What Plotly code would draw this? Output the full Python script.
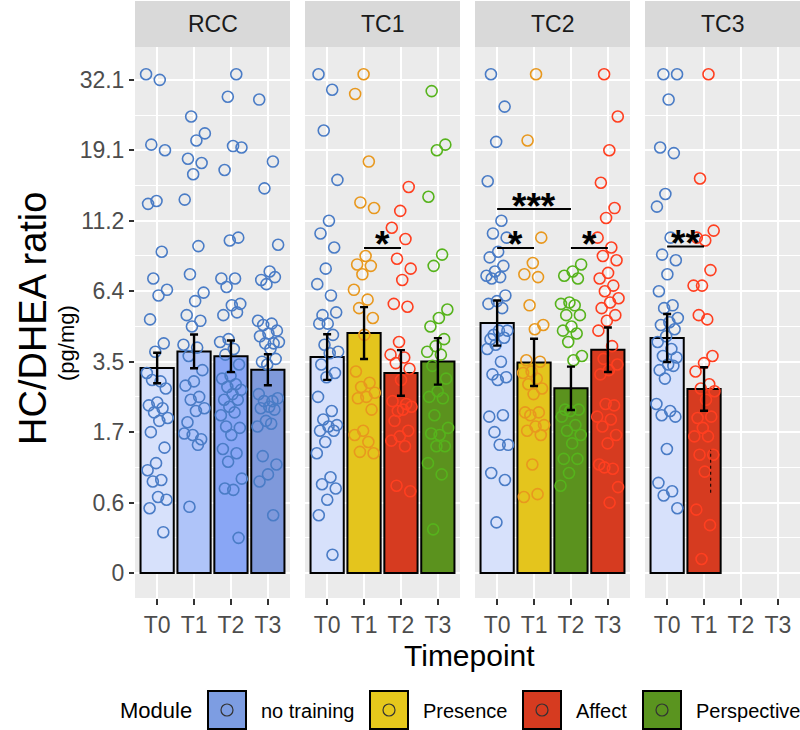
import numpy as np
import plotly.graph_objects as go

# ---------------- data (values on ln(1 + HC/DHEA ratio) scale) ----------------
panels = ["RCC", "TC1", "TC2", "TC3"]
timepoints = ["T0", "T1", "T2", "T3"]

y_tickvals = [0, 0.5, 1.0, 1.5, 2.0, 2.5, 3.0, 3.5]
y_ticklabels = ["0", "0.6", "1.7", "3.5", "6.4", "11.2", "19.1", "32.1"]

RCC_modules = ["no training", "no training", "no training", "no training"]
TC1_modules = ["no training", "Presence", "Affect", "Perspective"]
TC2_modules = ["no training", "Presence", "Perspective", "Affect"]
TC3_modules = ["no training", "Affect"]

RCC_mean = [1.455, 1.573, 1.538, 1.443]
RCC_se = [0.108, 0.120, 0.112, 0.110]
TC1_mean = [1.533, 1.703, 1.420, 1.502]
TC1_se = [0.162, 0.184, 0.162, 0.165]
TC2_mean = [1.774, 1.495, 1.311, 1.585]
TC2_se = [0.160, 0.168, 0.154, 0.158]
TC3_mean = [1.668, 1.306]
TC3_se = [0.170, 0.154]

RCC_T0 = [3.54, 3.50, 3.04, 3.00, 2.64, 2.62, 2.28, 2.09, 2.01, 1.97, 1.80, 1.63, 1.57, 1.42, 1.36, 1.37, 1.31,
          1.21, 1.19, 1.17, 1.14, 1.10, 1.08, 1.00, 0.89, 0.78, 0.73, 0.66, 0.65, 0.52, 0.54, 0.46, 0.29]
RCC_T1 = [3.24, 3.12, 3.07, 2.94, 2.91, 2.83, 2.65, 2.32, 2.12, 1.99, 1.93, 1.83, 1.79, 1.75, 1.62, 1.60, 1.54,
          1.44, 1.36, 1.33, 1.25, 1.23, 1.17, 1.15, 1.07, 0.95, 0.98, 0.99, 0.91, 0.47]
RCC_T2 = [3.54, 3.38, 3.02, 3.03, 2.86, 2.38, 2.36, 2.09, 2.09, 2.03, 1.91, 1.90, 1.83, 1.85, 1.66, 1.64, 1.59,
          1.55, 1.48, 1.40, 1.38, 1.34, 1.32, 1.30, 1.27, 1.23, 1.23, 1.18, 1.12, 1.14, 1.04, 1.03, 0.98, 0.88,
          0.85, 0.79, 0.67, 0.59, 0.60, 0.25]
RCC_T3 = [3.36, 2.92, 2.73, 2.33, 2.14, 2.08, 2.10, 2.05, 1.79, 1.77, 1.76, 1.72, 1.70, 1.68, 1.63, 1.63, 1.64,
          1.59, 1.50, 1.52, 1.48, 1.27, 1.22, 1.22, 1.24, 1.18, 1.17, 1.16, 1.08, 1.04, 1.06, 0.83, 0.77, 0.70,
          0.65, 0.41]

TC1_T0 = [3.54, 3.43, 3.14, 2.79, 2.50, 2.41, 2.31, 2.16, 2.05, 1.97, 1.83, 1.85, 1.77, 1.77, 1.69, 1.62, 1.57,
          1.56, 1.48, 1.42, 1.39, 1.25, 1.15, 1.09, 1.05, 1.04, 1.01, 1.01, 0.93, 0.85, 0.68, 0.63, 0.60, 0.52,
          0.41, 0.13]
TC1_T1 = [3.54, 3.40, 2.92, 2.63, 2.59, 2.25, 2.19, 2.18, 2.12, 2.01, 1.94, 1.88, 1.81, 1.69, 1.43, 1.35, 1.32,
          1.28, 1.25, 1.24, 1.16, 1.01, 0.98, 0.93, 0.86, 0.85]
TC1_T2 = [2.74, 2.57, 2.45, 2.37, 2.23, 2.16, 2.08, 1.91, 1.89, 1.64, 1.55, 1.53, 1.49, 1.45, 1.37, 1.22, 1.20,
          1.15, 1.18, 1.16, 1.08, 1.01, 0.97, 0.94, 0.90, 0.62, 0.58]
TC1_T3 = [3.42, 3.04, 3.00, 2.67, 2.26, 2.18, 1.87, 1.81, 1.75, 1.66, 1.61, 1.57, 1.55, 1.47, 1.38, 1.29, 1.25,
          1.24, 1.12, 1.03, 0.98, 0.99, 0.90, 0.90, 0.78, 0.70, 0.31]

TC2_T0 = [3.54, 3.31, 3.06, 2.78, 2.50, 2.41, 2.38, 2.28, 2.24, 2.18, 2.14, 2.11, 2.10, 2.09, 1.97, 1.93, 1.91,
          1.88, 1.69, 1.72, 1.72, 1.66, 1.67, 1.62, 1.59, 1.50, 1.41, 1.39, 1.37, 1.11, 1.12, 1.00, 0.91, 0.91,
          0.71, 0.66, 0.36]
TC2_T1 = [3.54, 3.07, 2.38, 2.20, 2.12, 2.10, 1.90, 1.76, 1.73, 1.51, 1.50, 1.43, 1.42, 1.38, 1.34, 1.31, 1.27,
          1.14, 1.14, 1.12, 1.05, 1.04, 1.01, 0.98, 0.77, 0.54, 0.56]
TC2_T2 = [2.19, 2.14, 2.11, 2.09, 1.92, 1.91, 1.90, 1.83, 1.83, 1.75, 1.72, 1.70, 1.64, 1.54, 1.51, 1.16, 1.16,
          1.15, 1.11, 1.05, 1.01, 0.98, 0.92, 0.81, 0.81, 0.71, 0.62]
TC2_T3 = [3.54, 3.24, 3.00, 2.77, 2.59, 2.52, 2.38, 2.31, 2.25, 2.22, 2.13, 2.09, 2.04, 2.00, 1.95, 1.92, 1.88,
          1.83, 1.79, 1.72, 1.61, 1.52, 1.48, 1.44, 1.41, 1.19, 1.20, 1.11, 1.09, 1.04, 0.98, 0.92, 0.77, 0.74,
          0.75, 0.61, 0.50]

TC3_T0 = [3.54, 3.54, 3.36, 3.02, 2.98, 2.69, 2.60, 2.38, 2.26, 2.22, 2.12, 2.00, 1.90, 1.88, 1.81, 1.78, 1.76,
          1.73, 1.68, 1.64, 1.59, 1.54, 1.53, 1.48, 1.44, 1.47, 1.38, 1.20, 1.15, 1.12, 1.11, 0.88, 0.64, 0.58,
          0.55, 0.46]
TC3_T1 = [3.54, 2.80, 2.43, 2.36, 2.38, 2.15, 2.04, 2.04, 1.80, 1.83, 1.54, 1.49, 1.43, 1.34, 1.31, 1.29, 1.23,
          1.10, 1.11, 1.03, 0.97, 0.97, 0.84, 0.84, 0.72, 0.45, 0.34, 0.10]

# significance comparisons
sig_panel = ["TC1", "TC2", "TC2", "TC2", "TC3"]
sig_from = [1, 0, 0, 2, 0]
sig_to = [2, 2, 1, 3, 1]
sig_label = ["*", "***", "*", "*", "**"]
sig_height = [2.307, 2.583, 2.307, 2.307, 2.318]

legend_modules = ["no training", "Presence", "Affect", "Perspective"]

# ---------------- styles ----------------
FONT = "Liberation Sans, Arial, Helvetica, sans-serif"
point_color = {"no training": "#4A7CC6", "Presence": "#E8981E", "Affect": "#FF3F20", "Perspective": "#56B31C"}
bar_color = {"no training": "#D7E1FB", "Presence": "#E4C51D", "Affect": "#D63B20", "Perspective": "#5B921E"}
rcc_bar_colors = ["#D7E1FB", "#AFC4F9", "#89A6F5", "#7F99DB"]
key_color = {"no training": "#7D9DE2", "Presence": "#E6C81C", "Affect": "#D63B20", "Perspective": "#5A941F"}

panel_modules = [RCC_modules, TC1_modules, TC2_modules, TC3_modules]
panel_means = [RCC_mean, TC1_mean, TC2_mean, TC3_mean]
panel_se = [RCC_se, TC1_se, TC2_se, TC3_se]
panel_points = [[RCC_T0, RCC_T1, RCC_T2, RCC_T3], [TC1_T0, TC1_T1, TC1_T2, TC1_T3],
                [TC2_T0, TC2_T1, TC2_T2, TC2_T3], [TC3_T0, TC3_T1]]

W, H = 800, 730
ML, MR, MT, MB = 135, 0, 47, 132
PW, PH = W - ML - MR, H - MT - MB
panel_w, gap = 155, 15

def px_x(px):
    return (px - ML) / PW

def px_y(py):
    return (H - MB - py) / PH

fig = go.Figure()
layout = {}
minor_vals = [0.25, 0.75, 1.25, 1.75, 2.25, 2.75, 3.25]

for i, p in enumerate(panels):
    xa = "x" if i == 0 else f"x{i+1}"
    ya = "y" if i == 0 else f"y{i+1}"
    d0 = i * (panel_w + gap) / PW
    d1 = (i * (panel_w + gap) + panel_w) / PW
    layout["xaxis" if i == 0 else f"xaxis{i+1}"] = dict(
        domain=[d0, d1], range=[-0.6, 3.6], tickvals=[0, 1, 2, 3], ticktext=timepoints,
        anchor=ya, showgrid=True, gridcolor="white", gridwidth=2, zeroline=False,
        ticks="outside", ticklen=6, tickwidth=1.6, tickcolor="#333333",
        tickfont=dict(size=23, color="#4D4D4D", family=FONT), fixedrange=True, showline=False)
    yax = dict(
        anchor=xa, range=[-0.177, 3.733], tickvals=y_tickvals, ticktext=y_ticklabels,
        showgrid=True, gridcolor="white", gridwidth=2, zeroline=False,
        minor=dict(tickvals=minor_vals, showgrid=True, gridcolor="white", gridwidth=1, ticks=""),
        showticklabels=(i == 0), ticks="outside" if i == 0 else "", ticklen=5, tickwidth=1.6,
        tickcolor="#333333", tickfont=dict(size=23, color="#4D4D4D", family=FONT),
        fixedrange=True, showline=False)
    if i > 0:
        yax["matches"] = "y"
    layout["yaxis" if i == 0 else f"yaxis{i+1}"] = yax

    mods = panel_modules[i]
    n = len(mods)
    idx = list(range(n))
    colors = rcc_bar_colors if p == "RCC" else [bar_color[m] for m in mods]
    fig.add_trace(go.Bar(x=idx, y=panel_means[i], width=0.9, xaxis=xa, yaxis=ya,
                         marker=dict(color=colors, line=dict(color="black", width=2)),
                         showlegend=False, hoverinfo="skip"))
    for j, vals in enumerate(panel_points[i]):
        k = np.arange(len(vals))
        jit = (((k * 0.6180339887) + 0.37 * j + 0.11 * i) % 1.0 - 0.5) * 0.6
        c = point_color[mods[j]]
        fig.add_trace(go.Scatter(x=j + jit, y=vals, mode="markers", xaxis=xa, yaxis=ya,
                                 marker=dict(symbol="circle-open", size=11, color=c,
                                             line=dict(width=1.6, color=c)),
                                 showlegend=False, hoverinfo="skip"))
    fig.add_trace(go.Scatter(x=idx, y=panel_means[i], mode="markers", xaxis=xa, yaxis=ya,
                             marker=dict(size=1, color="rgba(0,0,0,0)"),
                             error_y=dict(type="data", array=panel_se[i], color="black",
                                          thickness=2.4, width=4),
                             showlegend=False, hoverinfo="skip"))

shapes = []
annotations = []

# strips
for i, p in enumerate(panels):
    d0 = i * (panel_w + gap) / PW
    d1 = (i * (panel_w + gap) + panel_w) / PW
    shapes.append(dict(type="rect", xref="paper", yref="paper", x0=d0, x1=d1,
                       y0=1.0, y1=px_y(1), fillcolor="#D9D9D9", line=dict(width=0), layer="below"))
    annotations.append(dict(xref="paper", yref="paper", x=(d0 + d1) / 2, y=px_y(24), text=p,
                            showarrow=False, xanchor="center", yanchor="middle",
                            font=dict(size=23, color="#1A1A1A", family=FONT)))

# significance brackets
for pn, a, b, lab, h in zip(sig_panel, sig_from, sig_to, sig_label, sig_height):
    i = panels.index(pn)
    xa = "x" if i == 0 else f"x{i+1}"
    ya = "y" if i == 0 else f"y{i+1}"
    shapes.append(dict(type="line", xref=xa, yref=ya, x0=a, x1=b, y0=h, y1=h,
                       line=dict(color="black", width=2)))
    annotations.append(dict(xref=xa, yref=ya, x=(a + b) / 2, y=h, text="<b>" + lab + "</b>",
                            showarrow=False, xanchor="center", yanchor="middle", yshift=3,
                            font=dict(size=37, color="black", family=FONT)))

# small dotted segment in TC3 / T1
shapes.append(dict(type="line", xref="x4", yref="y4", x0=1.18, x1=1.18, y0=0.57, y1=0.875,
                   line=dict(color="black", width=1, dash="dot")))

# axis titles
annotations.append(dict(xref="paper", yref="paper", x=px_x(33), y=px_y(319), text="HC/DHEA ratio",
                        textangle=-90, showarrow=False, xanchor="center", yanchor="middle",
                        font=dict(size=38, color="black", family=FONT)))
annotations.append(dict(xref="paper", yref="paper", x=px_x(66), y=px_y(343), text="(pg/mg)",
                        textangle=-90, showarrow=False, xanchor="center", yanchor="middle",
                        font=dict(size=22, color="black", family=FONT)))
annotations.append(dict(xref="paper", yref="paper", x=px_x(469), y=px_y(655), text="Timepoint",
                        showarrow=False, xanchor="center", yanchor="middle",
                        font=dict(size=30, color="black", family=FONT)))

# legend (manual, ggplot style)
annotations.append(dict(xref="paper", yref="paper", x=px_x(194), y=px_y(710), text="Module",
                        showarrow=False, xanchor="right", yanchor="middle",
                        font=dict(size=22, color="black", family=FONT)))
key_left = [208, 370, 523, 643]
for m, kx in zip(legend_modules, key_left):
    shapes.append(dict(type="rect", xref="paper", yref="paper", x0=px_x(kx), x1=px_x(kx + 38),
                       y0=px_y(729), y1=px_y(691), fillcolor=key_color[m],
                       line=dict(color="black", width=2)))
    cx, cy = kx + 19, 710
    shapes.append(dict(type="circle", xref="paper", yref="paper", x0=px_x(cx - 6), x1=px_x(cx + 6),
                       y0=px_y(cy + 6), y1=px_y(cy - 6), line=dict(color="#333333", width=1.2)))
    annotations.append(dict(xref="paper", yref="paper", x=px_x(kx + 38 + 13), y=px_y(711), text=m,
                            showarrow=False, xanchor="left", yanchor="middle",
                            font=dict(size=20, color="black", family=FONT)))

fig.update_layout(
    width=W, height=H, margin=dict(l=ML, r=MR, t=MT, b=MB, pad=0),
    paper_bgcolor="white", plot_bgcolor="#EBEBEB",
    font=dict(family=FONT, color="black"), showlegend=False, bargap=0.1,
    shapes=shapes, annotations=annotations, **layout)

fig.write_html("out.html", config={"displayModeBar": False},
               post_script="document.body.style.margin='0';document.body.style.overflow='hidden';")
